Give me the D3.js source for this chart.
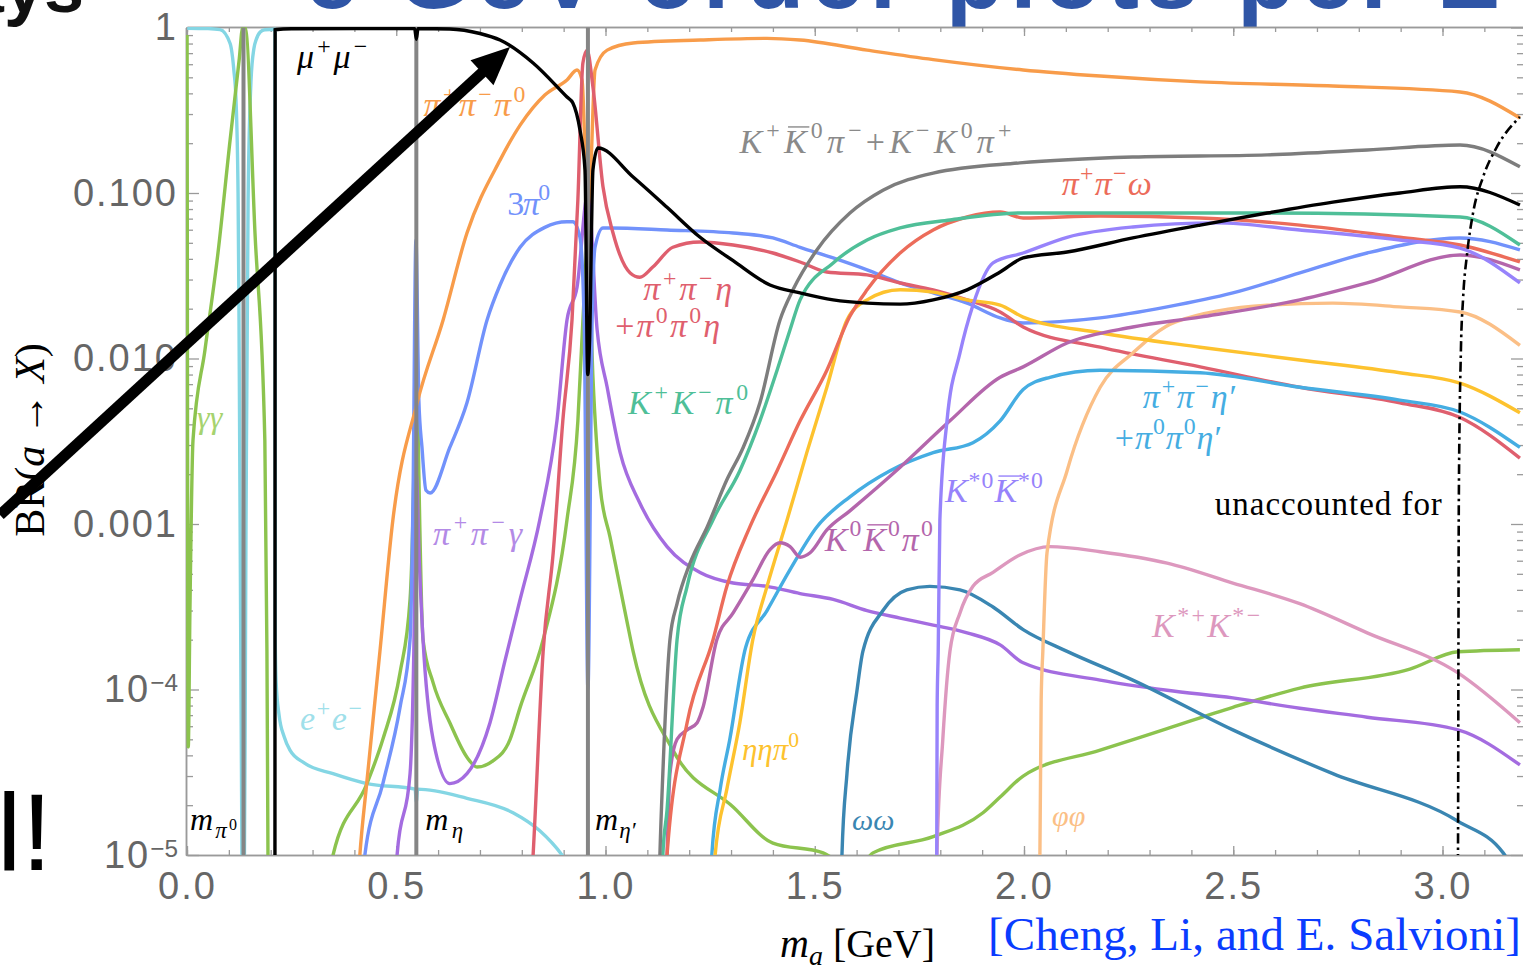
<!DOCTYPE html>
<html>
<head>
<meta charset="utf-8">
<script src="https://cdnjs.cloudflare.com/ajax/libs/d3/7.8.5/d3.min.js"></script>
<style>
  body { margin: 0; background: #fff; overflow: hidden; }
</style>
</head>
<body>
<div id="chart-area"></div>
<script>
// ---- data: [m_a in GeV, branching ratio] ----
const muMu = [[0.2100,1e-7],[0.2106,0.97],[0.25,0.982],[0.40,0.985],[0.544,0.985],[0.548,0.85],[0.552,0.985],
  [0.628,0.98],[0.70,0.92],[0.748,0.84],[0.827,0.61],[0.908,0.38],[0.922,0.35],[0.939,0.24],[0.951,0.138],
  [0.9575,0.008],[0.962,0.013],[0.970,0.138],[0.982,0.187],[1.066,0.125],[1.147,0.082],[1.226,0.054],[1.305,0.039],
  [1.393,0.0278],[1.465,0.0249],[1.544,0.0226],[1.625,0.0216],[1.704,0.0213],[1.783,0.0226],[1.864,0.026],
  [1.943,0.0333],[1.998,0.0405],[2.103,0.044],[2.260,0.0535],[2.421,0.064],[2.581,0.0757],[2.738,0.088],
  [2.898,0.1],[3.042,0.109],[3.185,0.0846]];

const ee = [[0.0005,0.99],[0.05,0.985],[0.079,0.97],[0.103,0.8],[0.112,0.55],[0.117,0.37],[0.122,0.1],[0.124,0.023],
  [0.129,1e-4],[0.135,1e-6],[0.141,1e-3],[0.146,0.09],[0.153,0.48],[0.160,0.75],[0.165,0.84],[0.175,0.94],[0.186,0.97],
  [0.2104,0.975],[0.2108,2e-4],[0.213,1.1e-4],[0.22,7e-5],[0.232,5.2e-5],[0.246,4.3e-5],[0.28,3.6e-5],[0.349,3.1e-5],
  [0.430,2.7e-5],[0.545,2.5e-5],[0.548,2.1e-5],[0.551,2.5e-5],[0.669,2.2e-5],[0.779,1.8e-5],[0.843,1.4e-5],
  [0.896,1e-5],[0.95,6e-6]];

const gammaGamma = [[0.0002,0.9],[0.003,4.5e-5],[0.007,3e-4],[0.0143,3.2e-3],[0.043,0.0113],[0.074,0.0434],[0.103,0.209],
  [0.125,0.65],[0.133,1],[0.139,1],[0.1625,0.057],[0.186,3.2e-3],[0.191,1.7e-4],[0.1935,1e-5],[0.196,1e-7],
  [0.25,1e-7],[0.33,5e-6],[0.349,1e-5],[0.430,2.7e-5],[0.468,5e-5],[0.509,1.26e-4],[0.533,3.5e-4],[0.542,2e-3],
  [0.548,0.02],[0.554,2e-3],[0.564,2e-4],[0.588,1.1e-4],[0.628,6.3e-5],[0.669,3.9e-5],[0.693,3.4e-5],[0.731,3.7e-5],
  [0.772,5e-5],[0.796,7.8e-5],[0.851,2e-4],[0.908,1.06e-3],[0.934,4.2e-3],[0.946,0.017],[0.958,0.05],[0.970,7.7e-3],
  [0.987,1.7e-3],[1.011,8.3e-4],[1.051,2.6e-4],[1.066,1.7e-4],[1.161,4.3e-5],[1.305,1.95e-5],[1.400,1.18e-5],
  [1.520,1.03e-5],[1.60,8e-6],[1.639,1.03e-5],[1.783,1.29e-5],[1.902,1.8e-5],[1.943,2.24e-5],[1.998,3.0e-5],
  [2.182,4.3e-5],[2.342,5.8e-5],[2.499,7.8e-5],[2.659,1.02e-4],[2.922,1.33e-4],[3.037,1.69e-4],[3.185,1.74e-4]];

const pipipi0 = [[0.405,5e-6],[0.413,1e-5],[0.430,2.8e-5],[0.461,1.7e-4],[0.492,1.06e-3],[0.550,5.4e-3],[0.612,0.0171],
  [0.669,0.0573],[0.748,0.158],[0.796,0.257],[0.855,0.391],[0.908,0.482],[0.932,0.554],[0.944,0.48],[0.957,0.08],
  [0.963,0.108],[0.975,0.554],[1.004,0.73],[1.066,0.806],[1.226,0.84],[1.386,0.86],[1.465,0.84],[1.625,0.73],
  [1.783,0.64],[1.998,0.554],[2.182,0.509],[2.421,0.469],[2.738,0.443],[3.042,0.408],[3.185,0.284]];

const threePi0 = [[0.418,5e-6],[0.425,1e-5],[0.468,2.7e-5],[0.509,7.8e-5],[0.533,2.0e-4],[0.540,1.4e-3],[0.547,0.052],
  [0.554,5.6e-3],[0.5615,2.9e-3],[0.571,1.6e-3],[0.581,1.54e-3],[0.628,2.9e-3],[0.669,5.4e-3],[0.717,0.0171],
  [0.748,0.0278],[0.796,0.047],[0.855,0.062],[0.908,0.067],[0.922,0.067],[0.939,0.054],[0.949,0.017],[0.958,1e-4],
  [0.968,0.017],[0.975,0.047],[0.994,0.0615],[1.011,0.0615],[1.147,0.0598],[1.305,0.0573],[1.400,0.0535],
  [1.465,0.047],[1.544,0.0405],[1.625,0.0343],[1.704,0.0286],[1.783,0.0249],[1.864,0.0216],[1.943,0.0176],
  [1.998,0.0164],[2.182,0.0176],[2.342,0.0205],[2.499,0.0249],[2.659,0.0329],[2.820,0.0434],[3.042,0.0535],[3.185,0.0453]];

const pipiGamma = [[0.495,5e-6],[0.502,1e-5],[0.533,3.1e-5],[0.542,1.7e-4],[0.548,2e-3],[0.555,6e-4],[0.564,2.0e-4],
  [0.588,5.0e-5],[0.628,2.7e-5],[0.669,3.1e-5],[0.724,6.3e-5],[0.760,1.5e-4],[0.796,3.5e-4],[0.843,1.06e-3],
  [0.884,4.2e-3],[0.908,0.0171],[0.932,0.027],[0.958,0.1],[0.980,0.0149],[1.004,6.7e-3],[1.035,2.7e-3],
  [1.082,1.34e-3],[1.147,7.3e-4],[1.226,5.1e-4],[1.305,4.4e-4],[1.386,4.2e-4],[1.465,3.8e-4],[1.544,3.5e-4],
  [1.625,3.0e-4],[1.704,2.7e-4],[1.783,2.45e-4],[1.864,2.2e-4],[1.943,1.86e-4],[1.998,1.45e-4],[2.182,1.14e-4],
  [2.342,9.9e-5],[2.499,8.9e-5],[2.659,7.7e-5],[2.820,6.8e-5],[3.037,5.7e-5],[3.185,3.5e-5]];

const pipiEta = [[0.82,5e-6],[0.827,1e-5],[0.851,1.7e-4],[0.875,6.7e-4],[0.898,4.2e-3],[0.920,0.0171],[0.934,0.091],
  [0.946,0.61],[0.956,0.73],[0.970,0.437],[0.994,0.109],[1.018,0.0573],[1.059,0.0329],[1.082,0.031],[1.113,0.0357],
  [1.161,0.047],[1.226,0.0506],[1.305,0.0485],[1.400,0.0434],[1.465,0.0383],[1.529,0.0333],[1.625,0.032],
  [1.704,0.0286],[1.783,0.026],[1.864,0.0226],[1.943,0.0191],[1.998,0.0155],[2.182,0.0117],[2.421,8.9e-3],
  [2.659,6.7e-3],[2.898,5.4e-3],[3.042,4.4e-3],[3.185,2.5e-3]];

const kkPi0 = [[1.13,3e-6],[1.137,1e-5],[1.147,1.87e-5],[1.171,2e-4],[1.195,4.2e-4],[1.257,1.06e-3],[1.321,2.1e-3],
  [1.369,4.2e-3],[1.410,8.5e-3],[1.441,0.0149],[1.465,0.0226],[1.544,0.0378],[1.625,0.052],[1.704,0.0615],
  [1.823,0.0687],[1.990,0.0757],[2.260,0.0757],[2.581,0.0757],[3.042,0.0716],[3.185,0.0485]];

const kkPi = [[1.125,3e-6],[1.130,1e-5],[1.137,3.1e-5],[1.154,2e-4],[1.171,3.3e-4],[1.202,5.8e-4],[1.243,9.6e-4],
  [1.290,1.85e-3],[1.329,2.9e-3],[1.369,5.4e-3],[1.417,0.0171],[1.448,0.026],[1.505,0.0453],[1.584,0.0757],
  [1.663,0.104],[1.783,0.132],[1.990,0.152],[2.260,0.165],[2.581,0.17],[2.820,0.182],[3.042,0.195],[3.185,0.144]];

const pipiOmega = [[1.14,3e-6],[1.147,1e-5],[1.195,6.3e-5],[1.257,2e-4],[1.290,4.2e-4],[1.345,9.6e-4],[1.410,2.1e-3],
  [1.465,4.2e-3],[1.529,8.5e-3],[1.584,0.018],[1.625,0.026],[1.704,0.0434],[1.783,0.0598],[1.864,0.0716],
  [1.943,0.0767],[1.998,0.0706],[2.182,0.0726],[2.421,0.0706],[2.659,0.064],[2.898,0.054],[3.042,0.0485],[3.185,0.0383]];

const etaEtaPi0 = [[1.255,3e-6],[1.262,1e-5],[1.290,2.5e-5],[1.321,6.3e-5],[1.352,2e-4],[1.386,4.2e-4],[1.434,1.06e-3],
  [1.481,2.7e-3],[1.529,6.7e-3],[1.577,0.0171],[1.625,0.0226],[1.704,0.026],[1.783,0.0252],[1.864,0.0226],
  [1.943,0.021],[1.998,0.0178],[2.182,0.0143],[2.421,0.0117],[2.659,9.8e-3],[2.898,8.2e-3],[3.042,7.1e-3],[3.185,4.7e-3]];

const k0k0Pi0 = [[1.14,3e-6],[1.147,1e-5],[1.154,3.1e-5],[1.171,5e-5],[1.195,5.7e-5],[1.219,6.3e-5],[1.233,7.8e-5],
  [1.266,2e-4],[1.305,2.9e-4],[1.352,4.6e-4],[1.393,7.0e-4],[1.417,7.7e-4],[1.441,7.3e-4],[1.465,6.3e-4],
  [1.489,6.7e-4],[1.529,9.2e-4],[1.584,1.2e-3],[1.704,2.2e-3],[1.823,4.2e-3],[1.943,7.7e-3],[1.998,8.9e-3],
  [2.103,0.0124],[2.260,0.0155],[2.421,0.0178],[2.659,0.0226],[2.820,0.0286],[3.042,0.0422],[3.185,0.0343]];

const pipiEtaP = [[1.248,3e-6],[1.254,1e-5],[1.274,2.5e-5],[1.297,5e-5],[1.335,1.8e-4],[1.386,3.0e-4],[1.441,5.3e-4],
  [1.505,9.6e-4],[1.584,1.46e-3],[1.680,2.1e-3],[1.783,2.7e-3],[1.878,3.1e-3],[1.943,4.2e-3],[1.998,6.5e-3],
  [2.062,7.7e-3],[2.182,8.5e-3],[2.421,8.2e-3],[2.659,6.7e-3],[2.898,5.6e-3],[3.042,4.75e-3],[3.185,2.9e-3]];

const kStar0 = [[1.789,1e-7],[1.7915,1e-5],[1.7925,8e-5],[1.795,1.7e-4],[1.799,1.06e-3],[1.816,4.2e-3],[1.847,0.0108],
  [1.878,0.021],[1.926,0.0378],[1.998,0.0434],[2.103,0.054],[2.260,0.0623],[2.461,0.066],[2.659,0.0598],
  [2.898,0.052],[3.042,0.0465],[3.185,0.0286]];

const omegaOmega = [[1.56,3e-6],[1.565,1e-5],[1.577,3.1e-5],[1.601,9.9e-5],[1.615,1.7e-4],[1.663,3.0e-4],[1.720,4.0e-4],
  [1.775,4.2e-4],[1.847,4.0e-4],[1.926,3.15e-4],[1.998,2.3e-4],[2.103,1.7e-4],[2.260,1.14e-4],[2.499,5.7e-5],
  [2.738,3.1e-5],[3.037,1.6e-5],[3.145,1.03e-5],[3.2,6e-6]];

const kStarPM = [[1.788,3e-6],[1.792,1e-5],[1.806,5e-5],[1.823,1.7e-4],[1.847,2.9e-4],[1.878,4.2e-4],[1.926,5.1e-4],
  [1.990,6.5e-4],[2.062,7.3e-4],[2.182,6.8e-4],[2.342,5.8e-4],[2.499,4.4e-4],[2.659,3.3e-4],[2.820,2.2e-4],
  [3.037,1.26e-4],[3.185,6.3e-5]];

const phiPhi = [[2.036,1e-7],[2.038,1e-5],[2.041,8.6e-5],[2.045,1.7e-4],[2.055,6.7e-4],[2.103,2.1e-3],[2.182,6.7e-3],
  [2.260,0.0108],[2.361,0.0166],[2.581,0.021],[2.738,0.0216],[2.898,0.0205],[3.042,0.0191],[3.185,0.012]];

const unaccounted = [[3.036,5e-6],[3.037,1e-5],[3.039,1.4e-3],[3.044,0.0113],[3.049,0.0226],[3.059,0.0434],
  [3.073,0.0757],[3.097,0.125],[3.130,0.19],[3.185,0.288]];

const massLines = [0.135, 0.548, 0.958];   // m_pi0, m_eta, m_eta'

const xMajor = [0, 0.5, 1, 1.5, 2, 2.5, 3];
const yMajor = [1e-5, 1e-4, 1e-3, 1e-2, 0.1, 1];
const yTickText = ["10^−5", "10^−4", "0.001", "0.010", "0.100", "1"];

const colors = {
  ee: "#84d6e4", gg: "#8cc34e", mumu: "#000", pipipi0: "#f89c4a", threePi0: "#7292fb", pipig: "#a46ce0",
  pipieta: "#df5f6e", kkpi0: "#4fbf98", kkpi: "#7d7d7d", pipiomega: "#ec6c5a", etaetapi0: "#fdc22e",
  k0k0pi0: "#b466ac", pipietap: "#45ade2", kstar0: "#9783fb", omegaomega: "#3a86b2", kstarpm: "#dd98be",
  phiphi: "#fbbf86"
};

// labels, anchored at (m, BR) baseline-left; w = printed width
const labels = [
  {t: "μ^{+}μ^{−}", m: 0.263, br: 0.57, c: "#000", w: 70},
  {t: "π^{+}π^{−}π^{0}", m: 0.565, br: 0.29, c: colors.pipipi0, w: 102},
  {t: "3π^{0}", m: 0.765, br: 0.074, c: colors.threePi0, w: 43},
  {t: "K^{+}!{K}^{0}π^{−}+K^{−}K^{0}π^{+}", m: 1.32, br: 0.175, c: "#8a8a8a", w: 272},
  {t: "π^{+}π^{−}ω", m: 2.09, br: 0.097, c: colors.pipiomega, w: 90},
  {t: "π^{+}π^{−}η", m: 1.090, br: 0.0226, c: colors.pipieta, w: 89},
  {t: "+π^{0}π^{0}η", m: 1.023, br: 0.0135, c: colors.pipieta, w: 105},
  {t: "K^{+}K^{−}π^{0}", m: 1.054, br: 4.6e-3, c: colors.kkpi0, w: 120},
  {t: "γγ", m: 0.024, br: 3.8e-3, c: "#a6d36f", s: 32},
  {t: "π^{+}π^{−}γ", m: 0.588, br: 7.5e-4, c: "#b38ae6", w: 89},
  {t: "π^{+}π^{−}η′", m: 2.284, br: 5.0e-3, c: colors.pipietap, w: 94},
  {t: "+π^{0}π^{0}η′", m: 2.217, br: 2.85e-3, c: colors.pipietap, w: 107},
  {t: "K^{*0}!{K}^{*0}", m: 1.811, br: 1.36e-3, c: colors.kstar0, w: 98},
  {t: "K^{0}!{K}^{0}π^{0}", m: 1.524, br: 6.9e-4, c: colors.k0k0pi0, w: 108},
  {t: "K^{*+}K^{*−}", m: 2.306, br: 2.07e-4, c: colors.kstarpm, w: 108},
  {t: "e^{+}e^{−}", m: 0.270, br: 5.7e-5, c: "#9fe0ea", w: 62},
  {t: "ηηπ^{0}", m: 1.326, br: 3.75e-5, c: colors.etaetapi0, s: 31},
  {t: "ωω", m: 1.589, br: 1.42e-5, c: colors.omegaomega, s: 30},
  {t: "φφ", m: 2.067, br: 1.5e-5, c: colors.phiphi, s: 30},
  {t: "m_{π}`{0}", m: 0.007, br: 1.42e-5, c: "#000", s: 32, w: 47},
  {t: "m_{η}", m: 0.569, br: 1.42e-5, c: "#000", s: 32, w: 38},
  {t: "m_{η′}", m: 0.975, br: 1.42e-5, c: "#000", s: 32, w: 42}
];

// ---- layout ----
const width = 1523, height = 966;
const svg = d3.select("#chart-area").append("svg")
  .attr("width", width).attr("height", height)
  .style("display", "block");

const x = d3.scaleLinear().domain([0, 3.2]).range([187, 1526.2]);
const y = d3.scaleLog().domain([1e-5, 1]).range([855, 27.5]);

const serif = "'Liberation Serif', 'Times New Roman', serif";
const sans = "'Liberation Sans', Arial, sans-serif";

svg.append("defs").append("clipPath").attr("id", "plotclip")
  .append("rect").attr("x", 186).attr("y", 27).attr("width", 1340).attr("height", 828);

// ---- slide fragments around the chart ----
svg.append("text").attr("x", 84).attr("y", 12).attr("text-anchor", "end")
  .attr("font-family", sans).attr("font-weight", "bold").attr("font-size", 72)
  .attr("fill", "#111").text("Decays");
svg.append("text").attr("x", 305).attr("y", 8)
  .attr("font-family", sans).attr("font-weight", "bold").attr("font-size", 95)
  .attr("textLength", 1195).attr("lengthAdjust", "spacing")
  .attr("fill", "#2f55a6").text("e GeV-order plots per E");
svg.append("text").attr("x", 52).attr("y", 870).attr("text-anchor", "end")
  .attr("font-family", sans).attr("font-size", 110).attr("fill", "#000").text("all!");

// ---- axes / frame ----
function styleAxis(g) {
  g.select(".domain").attr("stroke", "#9a9a9a").attr("stroke-width", 1.5);
  g.selectAll(".tick line").attr("stroke", "#9a9a9a").attr("stroke-width", 1.3);
  g.selectAll(".tick text").attr("fill", "#666").attr("font-family", sans).attr("font-size", 38)
    .attr("letter-spacing", 2);
}

const xMinor = d3.range(0, 3.25, 0.1).map(v => +v.toFixed(1));
const yMinor = [];
[1e-5, 1e-4, 1e-3, 1e-2, 0.1].forEach(d => { for (let k = 2; k < 10; k++) yMinor.push(d * k); });

svg.append("g").attr("transform", "translate(0,855)")
  .call(d3.axisBottom(x).tickValues(xMinor).tickFormat("").tickSizeInner(-5).tickSizeOuter(0)).call(styleAxis);
svg.append("g").attr("transform", "translate(0,855)")
  .call(d3.axisBottom(x).tickValues(xMajor).tickFormat(d3.format(".1f")).tickSizeInner(-9).tickSizeOuter(0).tickPadding(17))
  .call(styleAxis);
svg.append("g").attr("transform", "translate(0,27)")
  .call(d3.axisTop(x).tickValues(xMinor).tickFormat("").tickSizeInner(-5).tickSizeOuter(0)).call(styleAxis);
svg.append("g").attr("transform", "translate(0,27)")
  .call(d3.axisTop(x).tickValues(xMajor).tickFormat("").tickSizeInner(-9).tickSizeOuter(0)).call(styleAxis);

svg.append("g").attr("transform", "translate(186,0)")
  .call(d3.axisLeft(y).tickValues(yMinor).tickFormat("").tickSizeInner(-7).tickSizeOuter(0)).call(styleAxis);
const yAx = svg.append("g").attr("transform", "translate(186,0)")
  .call(d3.axisLeft(y).tickValues(yMajor).tickFormat((d, i) => yTickText[i]).tickSizeInner(-13).tickSizeOuter(0).tickPadding(8))
  .call(styleAxis);
yAx.selectAll(".tick text").each(function(d, i) {
  const s = yTickText[i];
  if (s.includes("^")) {
    const [base, ex] = s.split("^");
    const t = d3.select(this).text(base);
    t.append("tspan").attr("dy", "-0.45em").attr("font-size", "64%").attr("letter-spacing", 0).text(ex);
  }
});
svg.append("g").attr("transform", "translate(1524,0)")
  .call(d3.axisRight(y).tickValues(yMinor).tickFormat("").tickSizeInner(-7).tickSizeOuter(0)).call(styleAxis);
svg.append("g").attr("transform", "translate(1524,0)")
  .call(d3.axisRight(y).tickValues(yMajor).tickFormat("").tickSizeInner(-13).tickSizeOuter(0)).call(styleAxis);

// axis titles
const yt = svg.append("text").attr("transform", "translate(44,440) rotate(-90)")
  .attr("text-anchor", "middle").attr("font-family", serif).attr("font-size", 42).attr("fill", "#000");
yt.append("tspan").text("BR(");
yt.append("tspan").attr("font-style", "italic").text("a");
yt.append("tspan").text(" → ");
yt.append("tspan").attr("font-style", "italic").text("X");
yt.append("tspan").text(")");

const xt = svg.append("text").attr("x", 780).attr("y", 957)
  .attr("font-family", serif).attr("font-size", 40).attr("fill", "#000");
xt.append("tspan").attr("font-style", "italic").text("m");
xt.append("tspan").attr("font-style", "italic").attr("font-size", 28).attr("dy", 8).text("a");
xt.append("tspan").attr("dy", -8).text(" [GeV]");

svg.append("text").attr("x", 988).attr("y", 950)
  .attr("font-family", serif).attr("font-size", 47).attr("fill", "#0a3cff")
  .attr("textLength", 533).attr("lengthAdjust", "spacing")
  .text("[Cheng, Li, and E. Salvioni]");

// ---- curves ----
const line = d3.line()
  .x(d => x(d[0]))
  .y(d => y(d[1]))
  .curve(d3.curveMonotoneX);

const series = [
  {d: ee, c: colors.ee}, {d: gammaGamma, c: colors.gg}, {d: pipiGamma, c: colors.pipig},
  {d: threePi0, c: colors.threePi0}, {d: pipipi0, c: colors.pipipi0}, {d: pipiEta, c: colors.pipieta},
  {d: omegaOmega, c: colors.omegaomega}, {d: kStarPM, c: colors.kstarpm}, {d: phiPhi, c: colors.phiphi},
  {d: pipiEtaP, c: colors.pipietap}, {d: etaEtaPi0, c: colors.etaetapi0}, {d: k0k0Pi0, c: colors.k0k0pi0},
  {d: pipiOmega, c: colors.pipiomega}, {d: kkPi0, c: colors.kkpi0}, {d: kkPi, c: colors.kkpi},
  {d: kStar0, c: colors.kstar0}
];

const plot = svg.append("g").attr("clip-path", "url(#plotclip)");
plot.selectAll("path.br").data(series).join("path").attr("class", "br")
  .attr("d", d => line(d.d))
  .attr("fill", "none").attr("stroke", d => d.c).attr("stroke-width", 3.4)
  .attr("stroke-linejoin", "round");

plot.selectAll("line.mass").data(massLines).join("line").attr("class", "mass")
  .attr("x1", d => x(d)).attr("x2", d => x(d))
  .attr("y1", y(1e-5)).attr("y2", y(1))
  .attr("stroke", "#858585").attr("stroke-width", 4);

plot.append("path").attr("d", line(muMu))
  .attr("fill", "none").attr("stroke", colors.mumu).attr("stroke-width", 3.4);

plot.append("path").attr("d", line(unaccounted))
  .attr("fill", "none").attr("stroke", "#000").attr("stroke-width", 2.6)
  .attr("stroke-dasharray", "10,4,2.5,4");

// ---- labels ----
const annot = svg.append("g");
function rich(str, px, py, size, color, w) {
  const t = annot.append("text").attr("x", px).attr("y", py).attr("fill", color)
    .attr("font-family", serif).attr("font-size", size);
  const re = /\^\{([^}]*)\}|_\{([^}]*)\}|`\{([^}]*)\}|!\{([^}]*)\}|([^\^_`!]+)/g;
  let mt, cur = 0, idx = 0;
  const bars = [];
  while ((mt = re.exec(str))) {
    let s, off = 0, sc = 1, bar = false;
    if (mt[1] != null) { s = mt[1]; off = -0.42; sc = 0.7; }
    else if (mt[2] != null) { s = mt[2]; off = 0.25; sc = 0.72; }
    else if (mt[3] != null) { s = mt[3]; off = 0.02; sc = 0.5; }
    else if (mt[4] != null) { s = mt[4]; bar = true; }
    else s = mt[5];
    s.split(/([A-Za-z\u0391-\u03c9]+)/).filter(p => p.length).forEach(p => {
      const it = /[A-Za-z\u0391-\u03c9]/.test(p);
      t.append("tspan").attr("dy", (off - cur) * size).attr("font-size", size * sc)
        .attr("font-style", it ? "italic" : "normal").text(p);
      cur = off;
      if (bar) bars.push([idx, idx + p.length - 1]);
      idx += p.length;
    });
  }
  if (w) t.attr("textLength", w).attr("lengthAdjust", "spacing");
  bars.forEach(([a, b]) => {
    const n = t.node();
    const p0 = n.getStartPositionOfChar(a), p1 = n.getEndPositionOfChar(b);
    annot.append("line").attr("x1", p0.x + size * 0.12).attr("x2", p1.x + size * 0.08)
      .attr("y1", py - size * 0.76).attr("y2", py - size * 0.76)
      .attr("stroke", color).attr("stroke-width", 1.4);
  });
}
labels.forEach(l => rich(l.t, x(l.m), y(l.br), l.s || 34, l.c, l.w));

annot.append("text").attr("x", x(2.456)).attr("y", y(1.13e-3))
  .attr("font-family", serif).attr("font-size", 33).attr("fill", "#000")
  .attr("textLength", 227).attr("lengthAdjust", "spacing").text("unaccounted for");

// ---- big slide arrow ----
const tip = [510, 47], tail = [0, 515];
const len = Math.hypot(tip[0] - tail[0], tip[1] - tail[1]);
const ux = (tip[0] - tail[0]) / len, uy = (tip[1] - tail[1]) / len;
const bx = tip[0] - 38 * ux, by = tip[1] - 38 * uy;
svg.append("line").attr("x1", tail[0]).attr("y1", tail[1]).attr("x2", bx + 4 * ux).attr("y2", by + 4 * uy)
  .attr("stroke", "#000").attr("stroke-width", 11);
svg.append("path")
  .attr("d", `M${tip[0]},${tip[1]}L${bx - 17 * uy},${by + 17 * ux}L${bx + 17 * uy},${by - 17 * ux}Z`)
  .attr("fill", "#000");
</script>
</body>
</html>
